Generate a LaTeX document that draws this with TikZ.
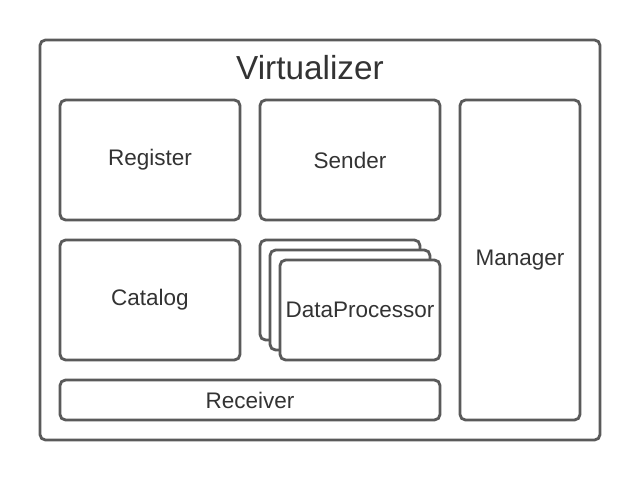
\documentclass[tikz,border=0pt]{standalone}
\usepackage{fontspec}
\setmainfont{Liberation Sans}
\definecolor{edge}{HTML}{5A5A5A}
\definecolor{ink}{HTML}{333333}
\tikzset{
  box/.style={draw=edge, line width=2pt, rounded corners=4pt, fill=white,
              text=ink, font=\fontsize{16}{19}\selectfont, inner sep=0pt},
}
\begin{document}
\begin{tikzpicture}[x=0.025cm,y=-0.025cm]
  \useasboundingbox (0,0) rectangle (640,480);
  \node[box, minimum width=14cm, minimum height=10cm] (virt) at (320,240) {};
  \node[text=ink, font=\fontsize{23.7}{27}\selectfont] (title) at (310,68) {Virtualizer};
  \node[box, minimum width=4.5cm, minimum height=3cm] (register) at (150,160) {Register};
  \node[box, minimum width=4.5cm, minimum height=3cm] (sender) at (350,160) {Sender};
  \node[box, minimum width=3cm, minimum height=8cm] (manager) at (520,260) {Manager};
  \node[box, minimum width=4.5cm, minimum height=3cm] (catalog) at (150,300) {Catalog};
  \node[box, minimum width=4cm, minimum height=2.5cm] (dpback) at (340,290) {};
  \node[box, minimum width=4cm, minimum height=2.5cm] (dpmid) at (350,300) {};
  \node[box, minimum width=4cm, minimum height=2.5cm] (dp) at (360,310) {DataProcessor};
  \node[box, minimum width=9.5cm, minimum height=1cm] (receiver) at (250,400) {Receiver};
\end{tikzpicture}
\end{document}
